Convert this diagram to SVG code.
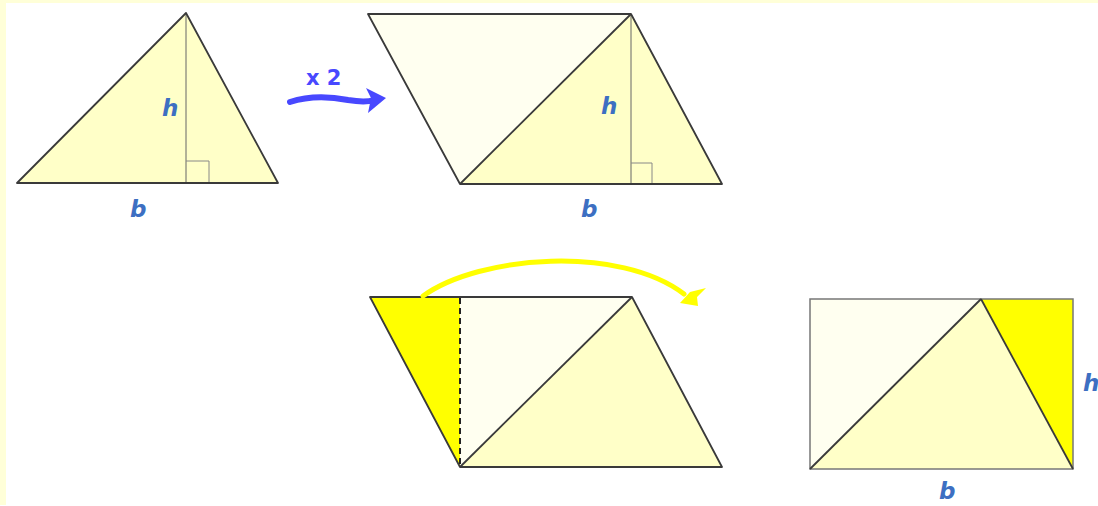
<svg xmlns="http://www.w3.org/2000/svg" width="1098" height="506" viewBox="0 0 1098 506">
<defs>
<style>
.edge{stroke:#3a3a3a;stroke-width:1.8;stroke-linejoin:round;fill:none}
.alt{stroke:#666;stroke-width:1;fill:none}
.sq{stroke:#888;stroke-width:1;fill:none}
.lt{fill:#ffffc8}
.pale{fill:#fffff0}
.yel{fill:#ffff00}
.lbl{font-family:"DejaVu Sans",sans-serif;font-style:italic;font-weight:bold;font-size:23px;fill:#3d6fc2}
.x2{font-family:"DejaVu Sans",sans-serif;font-weight:bold;font-size:21px;fill:#4848ff}
</style>
</defs>
<rect x="0" y="0" width="1098" height="506" fill="#ffffff"/>
<rect x="0" y="0" width="1098" height="3" fill="#ffffd8"/>
<rect x="0" y="0" width="6" height="505" fill="#ffffd8"/>

<g id="triangle">
<polygon class="lt" points="186,13 278,183 17,183"/>
<line class="alt" x1="186" y1="13" x2="186" y2="183"/>
<polyline class="sq" points="186,161 209,161 209,183"/>
<polygon class="edge" points="186,13 278,183 17,183"/>
<text class="lbl" x="162" y="116">h</text>
<text class="lbl" x="130" y="217">b</text>
</g>

<g id="parallelogram">
<polygon class="pale" points="368,14 631,14 460,184"/>
<polygon class="lt" points="631,14 722,184 460,184"/>
<line class="alt" x1="631" y1="14" x2="631" y2="184"/>
<polyline class="sq" points="631,163 652,163 652,184"/>
<polygon class="edge" points="368,14 631,14 722,184 460,184"/>
<line class="edge" x1="460" y1="184" x2="631" y2="14"/>
<text class="lbl" x="601" y="114">h</text>
<text class="lbl" x="581" y="217">b</text>
</g>

<g id="cut-parallelogram">
<polygon class="pale" points="460,297 632,297 460,467"/>
<polygon class="lt" points="632,297 722,467 460,467"/>
<polygon class="yel" points="370,297 460,297 460,467"/>
<polygon class="edge" points="370,297 632,297 722,467 460,467"/>
<line class="edge" x1="460" y1="467" x2="632" y2="297"/>
<line x1="460" y1="298" x2="460" y2="466" stroke="#222" stroke-width="2" stroke-dasharray="6,4"/>
</g>

<g id="rectangle">
<polygon class="pale" points="810,299 981,299 810,469"/>
<polygon class="lt" points="981,299 1073,469 810,469"/>
<polygon class="yel" points="981,299 1073,299 1073,469"/>
<rect x="810" y="299" width="263" height="170" stroke="#777" stroke-width="1.5" fill="none"/>
<line class="edge" x1="810" y1="469" x2="981" y2="299"/>
<line class="edge" x1="981" y1="299" x2="1073" y2="469"/>
<text class="lbl" x="1083" y="391">h</text>
<text class="lbl" x="939" y="499">b</text>
</g>

<g id="connectors">
<text class="x2" x="306" y="85">x 2</text>
<path d="M290,102 C308,96 328,96 348,100 C360,102 368,102 374,100" stroke="#4848ff" stroke-width="6" fill="none" stroke-linecap="round"/>
<polygon points="386,98 366,88 371,98 368,113" fill="#4848ff"/>
<path d="M423,296 C480,255 620,245 684,294" stroke="#ffff00" stroke-width="5" fill="none" stroke-linecap="round"/>
<polygon points="680,303 698,306 697,297 706,288 690,292" fill="#ffff00"/>
</g>
</svg>
